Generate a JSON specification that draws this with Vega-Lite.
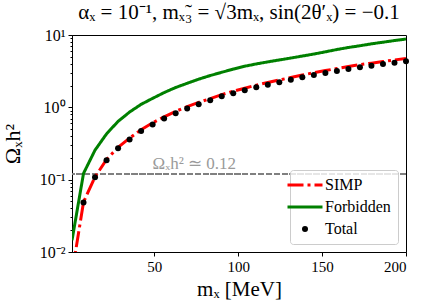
{
  "$schema": "https://vega.github.io/schema/vega-lite/v6.json",
  "width": 334,
  "height": 217,
  "autosize": "none",
  "padding": {"left": 72, "top": 35, "right": 20, "bottom": 56},
  "title": {
    "text": "αₓ = 10⁻¹, mₓ̃₃ = √3mₓ, sin(2θ′ₓ) = −0.1",
    "font": "Liberation Serif",
    "fontSize": 21,
    "fontWeight": "normal",
    "color": "black",
    "offset": 4
  },
  "datasets": {
    "rows": [
      {"m": 1, "series": "Forbidden", "omega": 0.0145},
      {"m": 7.86, "series": "Forbidden", "omega": 0.122},
      {"m": 14.72, "series": "Forbidden", "omega": 0.256},
      {"m": 21.59, "series": "Forbidden", "omega": 0.43},
      {"m": 28.45, "series": "Forbidden", "omega": 0.64},
      {"m": 35.31, "series": "Forbidden", "omega": 0.86},
      {"m": 42.17, "series": "Forbidden", "omega": 1.1},
      {"m": 49.03, "series": "Forbidden", "omega": 1.33},
      {"m": 55.9, "series": "Forbidden", "omega": 1.6},
      {"m": 62.76, "series": "Forbidden", "omega": 1.88},
      {"m": 69.62, "series": "Forbidden", "omega": 2.15},
      {"m": 76.48, "series": "Forbidden", "omega": 2.45},
      {"m": 83.34, "series": "Forbidden", "omega": 2.75},
      {"m": 90.21, "series": "Forbidden", "omega": 3.05},
      {"m": 97.07, "series": "Forbidden", "omega": 3.38},
      {"m": 103.93, "series": "Forbidden", "omega": 3.7},
      {"m": 110.79, "series": "Forbidden", "omega": 3.98},
      {"m": 117.66, "series": "Forbidden", "omega": 4.25},
      {"m": 124.52, "series": "Forbidden", "omega": 4.52},
      {"m": 131.38, "series": "Forbidden", "omega": 4.8},
      {"m": 138.24, "series": "Forbidden", "omega": 5.12},
      {"m": 145.1, "series": "Forbidden", "omega": 5.45},
      {"m": 151.97, "series": "Forbidden", "omega": 5.85},
      {"m": 158.83, "series": "Forbidden", "omega": 6.3},
      {"m": 165.69, "series": "Forbidden", "omega": 6.72},
      {"m": 172.55, "series": "Forbidden", "omega": 7.1},
      {"m": 179.41, "series": "Forbidden", "omega": 7.55},
      {"m": 186.28, "series": "Forbidden", "omega": 7.95},
      {"m": 193.14, "series": "Forbidden", "omega": 8.38},
      {"m": 200, "series": "Forbidden", "omega": 8.8},
      {"m": 1, "series": "SIMP", "omega": 0.005},
      {"m": 7.86, "series": "SIMP", "omega": 0.049},
      {"m": 14.72, "series": "SIMP", "omega": 0.109},
      {"m": 21.59, "series": "SIMP", "omega": 0.19},
      {"m": 28.45, "series": "SIMP", "omega": 0.28},
      {"m": 35.31, "series": "SIMP", "omega": 0.375},
      {"m": 42.17, "series": "SIMP", "omega": 0.49},
      {"m": 49.03, "series": "SIMP", "omega": 0.61},
      {"m": 55.9, "series": "SIMP", "omega": 0.74},
      {"m": 62.76, "series": "SIMP", "omega": 0.88},
      {"m": 69.62, "series": "SIMP", "omega": 1.02},
      {"m": 76.48, "series": "SIMP", "omega": 1.17},
      {"m": 83.34, "series": "SIMP", "omega": 1.32},
      {"m": 90.21, "series": "SIMP", "omega": 1.5},
      {"m": 97.07, "series": "SIMP", "omega": 1.67},
      {"m": 103.93, "series": "SIMP", "omega": 1.84},
      {"m": 110.79, "series": "SIMP", "omega": 2.03},
      {"m": 117.66, "series": "SIMP", "omega": 2.21},
      {"m": 124.52, "series": "SIMP", "omega": 2.39},
      {"m": 131.38, "series": "SIMP", "omega": 2.58},
      {"m": 138.24, "series": "SIMP", "omega": 2.8},
      {"m": 145.1, "series": "SIMP", "omega": 3.01},
      {"m": 151.97, "series": "SIMP", "omega": 3.22},
      {"m": 158.83, "series": "SIMP", "omega": 3.44},
      {"m": 165.69, "series": "SIMP", "omega": 3.67},
      {"m": 172.55, "series": "SIMP", "omega": 3.89},
      {"m": 179.41, "series": "SIMP", "omega": 4.08},
      {"m": 186.28, "series": "SIMP", "omega": 4.3},
      {"m": 193.14, "series": "SIMP", "omega": 4.52},
      {"m": 200, "series": "SIMP", "omega": 4.75},
      {"m": 7.86, "series": "Total", "omega": 0.0485},
      {"m": 14.72, "series": "Total", "omega": 0.108},
      {"m": 21.59, "series": "Total", "omega": 0.186},
      {"m": 28.45, "series": "Total", "omega": 0.271},
      {"m": 35.31, "series": "Total", "omega": 0.36},
      {"m": 42.17, "series": "Total", "omega": 0.47},
      {"m": 49.03, "series": "Total", "omega": 0.58},
      {"m": 55.9, "series": "Total", "omega": 0.7},
      {"m": 62.76, "series": "Total", "omega": 0.83},
      {"m": 69.62, "series": "Total", "omega": 0.96},
      {"m": 76.48, "series": "Total", "omega": 1.1},
      {"m": 83.34, "series": "Total", "omega": 1.25},
      {"m": 90.21, "series": "Total", "omega": 1.42},
      {"m": 97.07, "series": "Total", "omega": 1.57},
      {"m": 103.93, "series": "Total", "omega": 1.72},
      {"m": 110.79, "series": "Total", "omega": 1.89},
      {"m": 117.66, "series": "Total", "omega": 2.05},
      {"m": 124.52, "series": "Total", "omega": 2.22},
      {"m": 131.38, "series": "Total", "omega": 2.4},
      {"m": 138.24, "series": "Total", "omega": 2.6},
      {"m": 145.1, "series": "Total", "omega": 2.8},
      {"m": 151.97, "series": "Total", "omega": 2.98},
      {"m": 158.83, "series": "Total", "omega": 3.18},
      {"m": 165.69, "series": "Total", "omega": 3.39},
      {"m": 172.55, "series": "Total", "omega": 3.58},
      {"m": 179.41, "series": "Total", "omega": 3.76},
      {"m": 186.28, "series": "Total", "omega": 3.96},
      {"m": 193.14, "series": "Total", "omega": 4.15},
      {"m": 200, "series": "Total", "omega": 4.33}
    ],
    "ref": [{"m": 49, "omega": 0.12, "label": "Ωₓh² ≃ 0.12"}]
  },
  "data": {"name": "rows"},
  "encoding": {
    "x": {
      "field": "m",
      "type": "quantitative",
      "scale": {"domain": [1, 200], "nice": false, "zero": false},
      "axis": {
        "values": [50, 100, 150, 200],
        "title": "mₓ [MeV]",
        "grid": false,
        "tickSize": 4,
        "tickColor": "black",
        "domainColor": "black",
        "labelFont": "Liberation Serif",
        "labelFontSize": 15,
        "labelColor": "black",
        "labelPadding": 3,
        "titleFont": "Liberation Serif",
        "titleFontSize": 21,
        "titleFontWeight": "normal",
        "titleColor": "black",
        "titlePadding": 4
      }
    },
    "y": {
      "field": "omega",
      "type": "quantitative",
      "scale": {"type": "log", "domain": [0.01, 10], "nice": false},
      "axis": null
    }
  },
  "layer": [
    {
      "mark": {"type": "point", "opacity": 0},
      "encoding": {
        "y": {
          "field": "omega",
          "type": "quantitative",
          "axis": {
            "orient": "left",
            "values": [0.02, 0.03, 0.04, 0.05, 0.06, 0.07, 0.08, 0.09, 0.2, 0.3, 0.4, 0.5, 0.6, 0.7, 0.8, 0.9, 2, 3, 4, 5, 6, 7, 8, 9],
            "labels": false,
            "domain": false,
            "grid": false,
            "tickSize": 2,
            "tickColor": "black",
            "title": null
          }
        }
      }
    },
    {
      "mark": {"type": "rule", "color": "#808080", "strokeWidth": 1.5, "strokeDash": [5.5, 2.4]},
      "encoding": {"y": {"datum": 0.12, "type": "quantitative", "axis": null}, "x": null}
    },
    {
      "data": {"name": "ref"},
      "mark": {"type": "text", "align": "left", "baseline": "alphabetic", "dy": -5, "font": "Liberation Serif", "fontSize": 17, "color": "#9a9a9a"},
      "encoding": {"text": {"field": "label"}}
    },
    {
      "transform": [{"filter": "datum.series !== 'Total'"}],
      "mark": {"type": "line", "strokeWidth": 3, "clip": true},
      "encoding": {
        "y": {
          "field": "omega",
          "type": "quantitative",
          "axis": {
            "orient": "left",
            "values": [0.01, 0.1, 1, 10],
            "labelExpr": "datum.value > 5 ? '10¹' : datum.value > 0.5 ? '10⁰' : datum.value > 0.05 ? '10⁻¹' : '10⁻²'",
            "tickSize": 4,
            "labelOverlap": false,
            "labelBound": false,
            "title": "Ωₓh²",
            "grid": false,
            "tickColor": "black",
            "domainColor": "black",
            "labelFont": "Liberation Serif",
            "labelFontSize": 16,
            "labelColor": "black",
            "labelPadding": 3,
            "titleFont": "Liberation Serif",
            "titleFontSize": 22,
            "titleFontWeight": "normal",
            "titleColor": "black",
            "titleX": -48
          }
        },
        "color": {
          "field": "series",
          "type": "nominal",
          "scale": {"domain": ["SIMP", "Forbidden", "Total"], "range": ["#ff0000", "#008000", "#000000"]},
          "legend": {
            "orient": "bottom-right",
            "offset": 8,
            "title": null,
            "labelFont": "Liberation Serif",
            "labelFontSize": 16,
            "labelColor": "black",
            "labelOffset": 12,
            "symbolSize": 1225,
            "symbolType": "stroke",
            "rowPadding": 6,
            "padding": 7,
            "strokeColor": "#cccccc",
            "fillColor": "rgba(255,255,255,0.8)",
            "cornerRadius": 3,
            "encode": {
              "symbols": {
                "update": {
                  "shape": {"signal": "datum.value === 'Total' ? 'circle' : 'stroke'"},
                  "size": {"signal": "datum.value === 'Total' ? 36 : 1225"},
                  "fill": {"signal": "datum.value === 'Total' ? 'black' : 'transparent'"},
                  "stroke": {"signal": "datum.value === 'SIMP' ? '#ff0000' : datum.value === 'Forbidden' ? '#008000' : 'transparent'"},
                  "strokeWidth": {"signal": "datum.value === 'Total' ? 0 : 3"},
                  "strokeDash": {"signal": "datum.value === 'SIMP' ? [16, 4, 3, 4] : [1, 0]"},
                  "opacity": {"value": 1}
                }
              }
            }
          }
        },
        "strokeDash": {
          "field": "series",
          "type": "nominal",
          "scale": {"domain": ["SIMP", "Forbidden"], "range": [[16, 4, 3, 4], [1, 0]]},
          "legend": null
        }
      }
    },
    {
      "transform": [{"filter": "datum.series === 'Total'"}],
      "mark": {"type": "point", "filled": true, "size": 36, "opacity": 1},
      "encoding": {
        "color": {"field": "series", "type": "nominal"}
      }
    }
  ],
  "resolve": {"axis": {"y": "independent"}},
  "config": {
    "font": "Liberation Serif",
    "view": {"stroke": "black", "strokeWidth": 1},
    "background": "white"
  }
}
